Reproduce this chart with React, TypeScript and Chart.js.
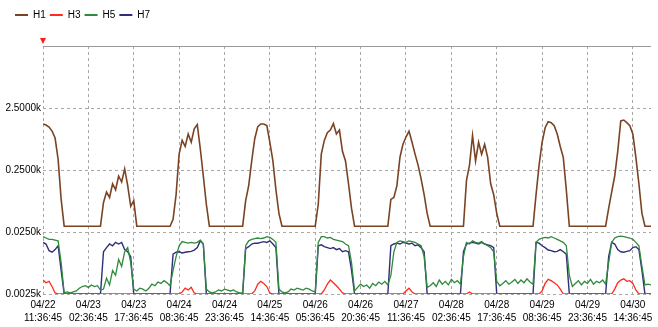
import React, { useEffect, useRef } from "react";
import { Chart, registerables } from "chart.js";

Chart.register(...registerables);

// ---- Data (values in k, one sample per hour starting 04/22 11:36:45) ----
const SERIES_NAMES = ["H1", "H3", "H5", "H7"];
const SERIES_COLORS = ["#7a4424", "#ff2a1a", "#2f8a3c", "#2e2f7a"];
const SERIES_WIDTHS = [1.6, 1.3, 1.3, 1.4];

const X_TICK_STEP_HOURS = 15;
const X_MAX_HOURS = 201;
const X_TICK_LABELS = [
  ["04/22", "11:36:45"],
  ["04/23", "02:36:45"],
  ["04/23", "17:36:45"],
  ["04/24", "08:36:45"],
  ["04/24", "23:36:45"],
  ["04/25", "14:36:45"],
  ["04/26", "05:36:45"],
  ["04/26", "20:36:45"],
  ["04/27", "11:36:45"],
  ["04/28", "02:36:45"],
  ["04/28", "17:36:45"],
  ["04/29", "08:36:45"],
  ["04/29", "23:36:45"],
  ["04/30", "14:36:45"],
];

const Y_MIN = 0.0025;
const Y_MAX = 25;
const Y_TICK_VALUES = [0.0025, 0.025, 0.25, 2.5, 25];
const Y_TICK_LABELS = ["0.0025k", "0.0250k", "0.2500k", "2.5000k", ""];

const H1 = [
  1.38, 1.33, 1.23, 1.06, 0.82, 0.37, 0.084,
  0.031, 0.031, 0.031, 0.031, 0.031, 0.031, 0.031, 0.031, 0.031, 0.031, 0.031, 0.031, 0.031,
  0.075, 0.11, 0.09, 0.15, 0.12, 0.2, 0.16, 0.26, 0.14, 0.065, 0.08,
  0.031, 0.031, 0.031, 0.031, 0.031, 0.031, 0.031, 0.031, 0.031, 0.031, 0.031, 0.031,
  0.04, 0.1, 0.45, 0.75, 0.6, 0.95, 0.7, 1.15, 1.35, 0.55, 0.2, 0.07,
  0.031, 0.031, 0.031, 0.031, 0.031, 0.031, 0.031, 0.031, 0.031, 0.031, 0.031, 0.031,
  0.08, 0.14, 0.35, 0.8, 1.25, 1.38, 1.38, 1.3, 0.7, 0.35, 0.12, 0.05,
  0.031, 0.031, 0.031, 0.031, 0.031, 0.031, 0.031, 0.031, 0.031, 0.031, 0.031, 0.031,
  0.07, 0.45, 0.75, 1.0, 1.1, 1.4, 0.95, 1.1, 0.5, 0.35, 0.15, 0.06,
  0.031, 0.031, 0.031, 0.031, 0.031, 0.031, 0.031, 0.031, 0.031, 0.031, 0.031, 0.031,
  0.084, 0.09, 0.14, 0.4, 0.65, 0.85, 1.06, 0.7, 0.45, 0.3, 0.18, 0.1, 0.05,
  0.031, 0.031, 0.031, 0.031, 0.031, 0.031, 0.031, 0.031, 0.031, 0.031, 0.031, 0.031,
  0.17, 0.3, 0.9, 0.35, 0.7, 0.45, 0.65, 0.4, 0.15, 0.1, 0.05,
  0.031, 0.031, 0.031, 0.031, 0.031, 0.031, 0.031, 0.031, 0.031, 0.031, 0.031, 0.031,
  0.1, 0.3, 0.7, 1.2, 1.5, 1.45, 1.3, 0.95, 0.6, 0.4, 0.12,
  0.031, 0.031, 0.031, 0.031, 0.031, 0.031, 0.031, 0.031, 0.031, 0.031, 0.031, 0.031, 0.031,
  0.06, 0.11, 0.2, 0.5, 1.55, 1.6, 1.45, 1.3, 0.95, 0.4, 0.15, 0.05,
  0.031, 0.031, 0.031,
];

const H3 = [
  0.0042, 0.0038, 0.004, 0.0033, 0.0026,
  0.0025, 0.0025, 0.0025, 0.0025, 0.0025, 0.0025, 0.0025, 0.0025, 0.0025, 0.0025,
  0.0025, 0.0025, 0.0025, 0.0025, 0.0025, 0.0025, 0.0025, 0.0025, 0.0025, 0.0025,
  0.0025, 0.0025, 0.0025, 0.0025, 0.0025, 0.0025, 0.0025, 0.0025, 0.0025, 0.0025,
  0.0025, 0.0025, 0.0025, 0.0025, 0.0025, 0.0025, 0.0025, 0.0025, 0.0025, 0.0025,
  0.0025,
  0.0027, 0.0031, 0.0029, 0.0032, 0.0026,
  0.0025, 0.0025, 0.0025, 0.0025, 0.0025, 0.0025, 0.0025, 0.0025, 0.0025, 0.0025,
  0.0025, 0.0025, 0.0025, 0.0025, 0.0025, 0.0025, 0.0025, 0.0025, 0.0025,
  0.0028, 0.0036, 0.004, 0.0037, 0.0033, 0.0026,
  0.0025, 0.0025, 0.0025, 0.0025, 0.0025, 0.0025, 0.0025, 0.0025, 0.0025, 0.0025,
  0.0025, 0.0025, 0.0025, 0.0025, 0.0025, 0.0025, 0.0025,
  0.0029, 0.0036, 0.0042, 0.0038, 0.0034, 0.003, 0.0026,
  0.0025, 0.0025, 0.0025, 0.0025, 0.0025, 0.0025, 0.0025, 0.0025, 0.0025, 0.0025,
  0.0025, 0.0025, 0.0025, 0.0025, 0.0025, 0.0025, 0.0025, 0.0025, 0.0025, 0.0025,
  0.0028, 0.0031, 0.0027,
  0.0025, 0.0025, 0.0025, 0.0025, 0.0025, 0.0025, 0.0025, 0.0025, 0.0025, 0.0025,
  0.0025, 0.0025, 0.0025, 0.0025, 0.0025, 0.0025, 0.0025, 0.0025,
  0.0027,
  0.0025, 0.0025, 0.0025, 0.0025, 0.0025, 0.0025, 0.0025, 0.0025, 0.0025, 0.0025,
  0.0025, 0.0025, 0.0025, 0.0025, 0.0025, 0.0025, 0.0025, 0.0025, 0.0025, 0.0025,
  0.0025, 0.0025, 0.0025,
  0.0028, 0.0037, 0.0043, 0.0041, 0.0038, 0.0035, 0.003,
  0.0025, 0.0025, 0.0025, 0.0025, 0.0025, 0.0025, 0.0025, 0.0025, 0.0025, 0.0025,
  0.0025, 0.0025, 0.0025, 0.0025, 0.0025, 0.0025, 0.0025,
  0.003, 0.0038, 0.0042, 0.0044, 0.004, 0.0041, 0.0037, 0.0029,
  0.0025, 0.0025, 0.0025, 0.0025, 0.0025,
];

const H5 = [
  0.021, 0.02, 0.019, 0.019, 0.0185, 0.018, 0.008,
  0.0026, 0.0027, 0.0026, 0.0027, 0.0028, 0.0031, 0.0033, 0.0034, 0.0032, 0.0035, 0.0033, 0.0034, 0.0029,
  0.003, 0.0045, 0.0035, 0.006, 0.005, 0.009, 0.007, 0.012, 0.014, 0.008, 0.003,
  0.0028, 0.0031, 0.003, 0.0028, 0.0031, 0.0036, 0.0034, 0.0039, 0.0037, 0.0041, 0.0038, 0.0034,
  0.006, 0.01, 0.015, 0.0175, 0.017, 0.0165, 0.017, 0.0165, 0.017, 0.0185, 0.016, 0.003,
  0.0027, 0.0026, 0.0027, 0.0029, 0.0028, 0.003, 0.0029, 0.0028, 0.0029, 0.0027, 0.0026, 0.0026,
  0.015, 0.018, 0.019, 0.0195, 0.02, 0.0195, 0.02, 0.021, 0.0205, 0.019, 0.017, 0.003,
  0.0027, 0.0026, 0.0027, 0.003, 0.0029, 0.0031, 0.003, 0.0029, 0.0031, 0.003, 0.0028, 0.0027,
  0.017, 0.021, 0.021, 0.02, 0.0205, 0.019, 0.0185, 0.018, 0.0175, 0.016, 0.015, 0.008,
  0.0028, 0.0032, 0.0036, 0.0033, 0.0035, 0.0031, 0.0037, 0.0034, 0.0039, 0.0036, 0.004, 0.0035,
  0.005, 0.012, 0.017, 0.018, 0.0175, 0.017, 0.018, 0.0175, 0.017, 0.016, 0.015, 0.01, 0.0032,
  0.0034, 0.0038, 0.0033, 0.0042, 0.0036, 0.004, 0.0035, 0.0043, 0.0038, 0.0041, 0.0036,
  0.01, 0.017, 0.016, 0.018, 0.017, 0.0165, 0.0175, 0.016, 0.015, 0.014, 0.012, 0.004,
  0.0034, 0.0037, 0.0041, 0.0036, 0.0039, 0.0043, 0.0037, 0.0042, 0.0038, 0.0044, 0.0039, 0.0036,
  0.017, 0.019, 0.02, 0.0205, 0.02, 0.021, 0.02, 0.019, 0.018, 0.017, 0.015, 0.005,
  0.0033, 0.0037, 0.0041, 0.0035, 0.004, 0.0037, 0.0043, 0.0036, 0.004, 0.0038, 0.0042, 0.0036,
  0.008, 0.017, 0.02, 0.021, 0.0215, 0.021, 0.0205, 0.02, 0.019, 0.017, 0.015, 0.007,
  0.0035, 0.0036, 0.0035,
];

const H7 = [
  0.017, 0.016, 0.0125, 0.0118, 0.013, 0.015, 0.006,
  0.0025, 0.0025, 0.0025, 0.0025, 0.0025, 0.0025, 0.0025, 0.0025, 0.0025, 0.0025, 0.0025, 0.0025, 0.0025,
  0.012, 0.014, 0.016, 0.015, 0.017, 0.016, 0.017, 0.013, 0.012, 0.01, 0.0025,
  0.0025, 0.0025, 0.0025, 0.0025, 0.0025, 0.0025, 0.0025, 0.0025, 0.0025, 0.0025, 0.0025, 0.0025,
  0.011, 0.0118, 0.012, 0.0115, 0.0118, 0.012, 0.0122, 0.0128, 0.014, 0.018, 0.016, 0.0025,
  0.0025, 0.0025, 0.0025, 0.0025, 0.0025, 0.0025, 0.0025, 0.0025, 0.0025, 0.0025, 0.0025, 0.0025,
  0.0135, 0.0145, 0.016, 0.0165, 0.0165, 0.017, 0.0175, 0.017, 0.018, 0.016, 0.014, 0.0025,
  0.0025, 0.0025, 0.0025, 0.0025, 0.0025, 0.0025, 0.0025, 0.0025, 0.0025, 0.0025, 0.0025, 0.0025,
  0.015, 0.0155, 0.0145, 0.014, 0.0135, 0.014, 0.013, 0.0135, 0.012, 0.0125, 0.012, 0.006,
  0.0025, 0.0025, 0.0025, 0.0025, 0.0025, 0.0025, 0.0025, 0.0025, 0.0025, 0.0025, 0.0025, 0.0025,
  0.015, 0.016, 0.0165, 0.016, 0.017, 0.0165, 0.016, 0.0165, 0.015, 0.0155, 0.014, 0.012, 0.0025,
  0.0025, 0.0025, 0.0025, 0.0025, 0.0025, 0.0025, 0.0025, 0.0025, 0.0025, 0.0025, 0.0025,
  0.012, 0.016, 0.0165, 0.017, 0.0165, 0.016, 0.017, 0.016, 0.0155, 0.015, 0.014, 0.0025,
  0.0025, 0.0025, 0.0025, 0.0025, 0.0025, 0.0025, 0.0025, 0.0025, 0.0025, 0.0025, 0.0025, 0.0025,
  0.017, 0.0165, 0.015, 0.014, 0.0128, 0.0125, 0.012, 0.0122, 0.013, 0.012, 0.011, 0.0025,
  0.0025, 0.0025, 0.0025, 0.0025, 0.0025, 0.0025, 0.0025, 0.0025, 0.0025, 0.0025, 0.0025, 0.0025,
  0.01, 0.017, 0.016, 0.013, 0.012, 0.0118, 0.0122, 0.0125, 0.014, 0.0145, 0.013, 0.006,
  0.0025, 0.0025, 0.0025,
];

const SERIES_VALUES = [H1, H3, H5, H7];

const FONT_FAMILY = "'Liberation Sans', Arial, sans-serif";
const LEGEND_LEFT = 11;

const cursorMarker = {
  id: "cursorMarker",
  beforeDraw(chart: any) {
    if (chart.legend) chart.legend.left = LEGEND_LEFT;
  },
  afterDraw(chart: any) {
    const { ctx, chartArea } = chart;
    const x = chart.scales.x.getPixelForValue(0);
    const y = chartArea.top;
    ctx.save();
    ctx.fillStyle = "#ff1a1a";
    ctx.beginPath();
    ctx.moveTo(x - 3, y - 8);
    ctx.lineTo(x + 3, y - 8);
    ctx.lineTo(x, y - 2);
    ctx.closePath();
    ctx.fill();
    ctx.restore();
  },
};

export default function App() {
  const canvasRef = useRef<HTMLCanvasElement | null>(null);

  useEffect(() => {
    if (!canvasRef.current) return;
    const defaultGen = (Chart as any).defaults.plugins.legend.labels.generateLabels;
    const chart = new Chart(canvasRef.current, {
      type: "line",
      data: {
        datasets: SERIES_NAMES.map((name, si) => ({
          label: name,
          data: SERIES_VALUES[si].map((v, i) => ({ x: i, y: v })),
          borderColor: SERIES_COLORS[si],
          backgroundColor: SERIES_COLORS[si],
          borderWidth: SERIES_WIDTHS[si],
          pointRadius: 0,
          tension: 0,
          fill: false,
        })),
      },
      options: {
        animation: false,
        responsive: false,
        maintainAspectRatio: false,
        parsing: false,
        normalized: true,
        events: [],
        layout: { padding: { left: 0, right: 7, top: 6, bottom: 0 } },
        plugins: {
          legend: {
            position: "top",
            align: "start",
            weight: 3000,
            labels: {
              usePointStyle: true,
              pointStyle: "line",
              pointStyleWidth: 13,
              boxHeight: 10,
              padding: 4,
              color: "#000",
              font: { family: FONT_FAMILY, size: 10 },
              generateLabels: (c: any) =>
                defaultGen(c).map((it: any) => ({ ...it, lineWidth: 2 })),
            },
          } as any,
          title: {
            display: true,
            text: "",
            padding: { top: 0, bottom: 6 },
            font: { size: 10, lineHeight: 1 },
            weight: 2000,
          } as any,
          tooltip: { enabled: false },
        },
        scales: {
          x: {
            type: "linear",
            min: 0,
            max: X_MAX_HOURS,
            afterBuildTicks: (s: any) => {
              s.ticks = X_TICK_LABELS.map((_, i) => ({ value: i * X_TICK_STEP_HOURS }));
            },
            afterFit: (s: any) => {
              s.height = 33;
            },
            ticks: {
              autoSkip: false,
              maxRotation: 0,
              minRotation: 0,
              padding: 4,
              color: "#000",
              font: { family: FONT_FAMILY, size: 10, lineHeight: 1.35 },
              callback: (v: any) => X_TICK_LABELS[Math.round(Number(v) / X_TICK_STEP_HOURS)] ?? "",
            },
            grid: { color: "#a8a8a8", drawTicks: false, lineWidth: 1 },
            border: { display: false, dash: [3, 3] },
          },
          y: {
            type: "logarithmic",
            min: Y_MIN,
            max: Y_MAX,
            afterBuildTicks: (s: any) => {
              s.ticks = Y_TICK_VALUES.map((v) => ({ value: v }));
            },
            afterFit: (s: any) => {
              s.width = 43;
            },
            ticks: {
              padding: 2,
              color: "#000",
              font: { family: FONT_FAMILY, size: 10 },
              callback: (_v: any, i: number) => Y_TICK_LABELS[i],
            },
            grid: {
              drawTicks: false,
              lineWidth: 1,
              color: (ctx: any) => (ctx.tick && ctx.tick.value === Y_MAX ? "#999999" : "#a8a8a8"),
            },
            border: {
              display: false,
              dash: (ctx: any) => (ctx.tick && ctx.tick.value === Y_MAX ? [] : [3, 3]),
            },
          },
        },
      } as any,
      plugins: [cursorMarker],
    });
    return () => chart.destroy();
  }, []);

  return (
    <div style={{ position: "fixed", left: 0, top: 0, width: 658, height: 327, background: "#fff" }}>
      <canvas ref={canvasRef} width={658} height={327} style={{ width: 658, height: 327 }} />
    </div>
  );
}
